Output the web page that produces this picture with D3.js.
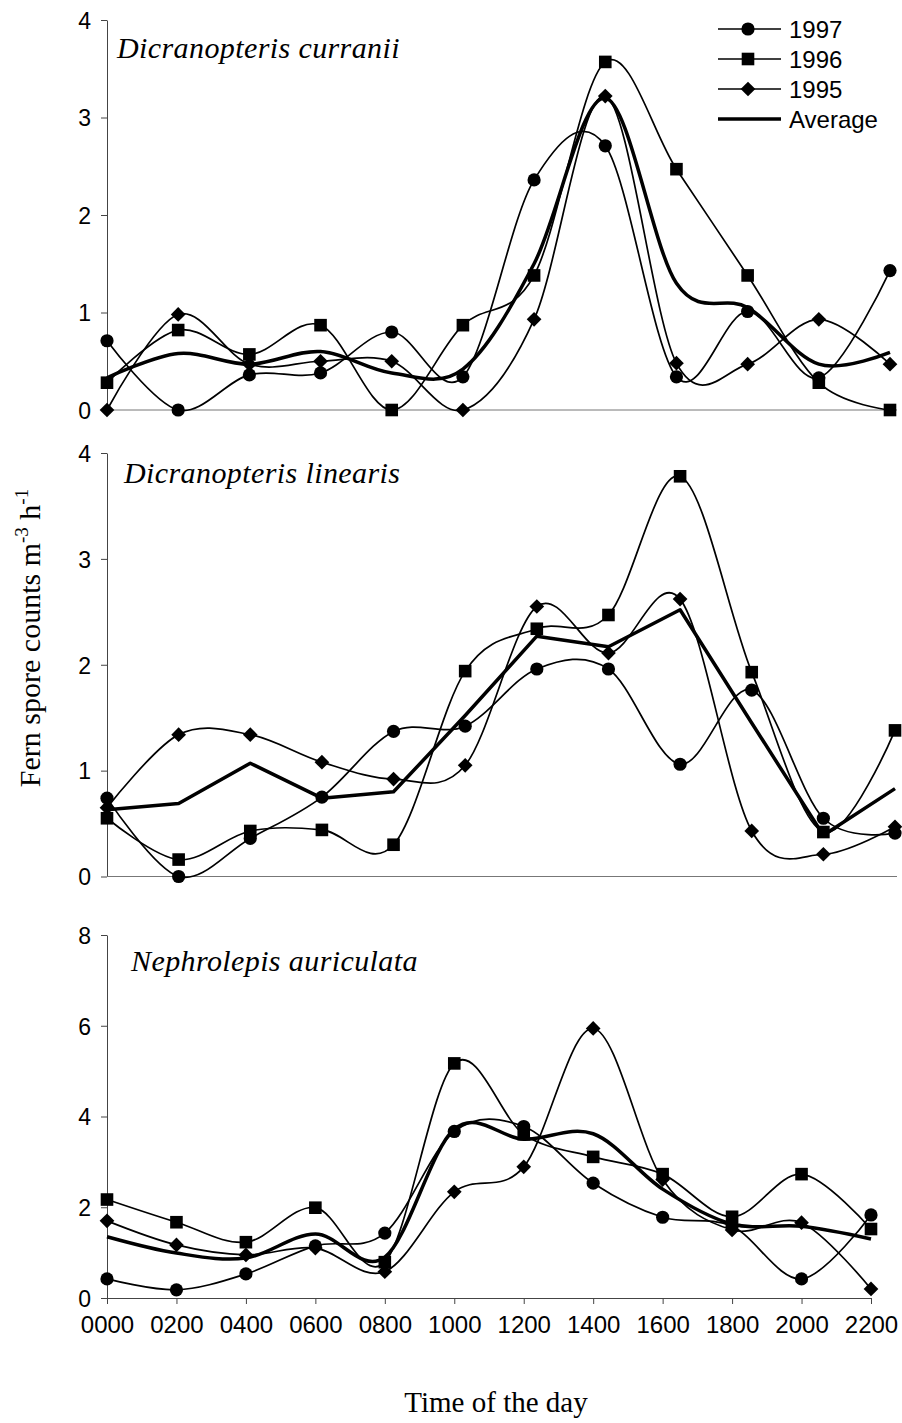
<!DOCTYPE html>
<html>
<head>
<meta charset="utf-8">
<script src="https://cdn.jsdelivr.net/npm/d3@7"></script>
<style>
  html, body { margin: 0; padding: 0; background: #fff; }
  svg { display: block; }
  .tick text { font-family: Arial, "Liberation Sans", sans-serif; fill: #000; }
</style>
</head>
<body>
<svg id="chart" width="902" height="1423"></svg>
<script>
// Sampling times (hour of day)
const hours = ["0000","0200","0400","0600","0800","1000","1200","1400","1600","1800","2000","2200"];

// Dicranopteris curranii
const curranii1997 = [0.71, 0.00, 0.36, 0.38, 0.80, 0.34, 2.36, 2.71, 0.34, 1.01, 0.33, 1.43];
const curranii1996 = [0.28, 0.82, 0.57, 0.87, 0.00, 0.87, 1.38, 3.57, 2.47, 1.38, 0.28, 0.00];
const curranii1995 = [0.00, 0.98, 0.47, 0.50, 0.50, 0.00, 0.93, 3.22, 0.48, 0.47, 0.93, 0.47];
const curraniiAvg  = [0.33, 0.58, 0.47, 0.60, 0.38, 0.42, 1.50, 3.20, 1.30, 1.05, 0.47, 0.59];

// Dicranopteris linearis
const linearis1997 = [0.74, 0.00, 0.36, 0.75, 1.37, 1.42, 1.96, 1.96, 1.06, 1.76, 0.55, 0.41];
const linearis1996 = [0.55, 0.16, 0.43, 0.44, 0.30, 1.94, 2.34, 2.47, 3.78, 1.93, 0.42, 1.38];
const linearis1995 = [0.65, 1.34, 1.34, 1.08, 0.92, 1.05, 2.55, 2.11, 2.62, 0.43, 0.21, 0.47];
const linearisAvg  = [0.63, 0.69, 1.07, 0.74, 0.80, 1.52, 2.27, 2.17, 2.52, 1.45, 0.39, 0.83];

// Nephrolepis auriculata
const auriculata1997 = [0.42, 0.18, 0.53, 1.15, 1.43, 3.67, 3.78, 2.53, 1.78, 1.58, 0.42, 1.83];
const auriculata1996 = [2.17, 1.67, 1.23, 1.99, 0.79, 5.17, 3.61, 3.11, 2.73, 1.79, 2.73, 1.52];
const auriculata1995 = [1.70, 1.17, 0.95, 1.10, 0.58, 2.34, 2.89, 5.94, 2.61, 1.50, 1.66, 0.20];
const auriculataAvg  = [1.35, 0.99, 0.88, 1.41, 0.90, 3.72, 3.50, 3.62, 2.40, 1.63, 1.58, 1.30];

const seriesNames = ["1997", "1996", "1995", "Average"];
// marker kinds: circle, square, diamond (square turned 45 degrees), none
const markerKinds = ["circle", "square", "diamond", null];

const ticksLow = [0, 1, 2, 3, 4];
const ticksHigh = [0, 2, 4, 6, 8];

const panels = [
  { species: "Dicranopteris curranii", series: [curranii1997, curranii1996, curranii1995, curraniiAvg],
    xRange: [107, 890], axisEnd: 897, yRange: [410, 20], yMax: 4, ticks: ticksLow,
    avgCurve: d3.curveCatmullRom.alpha(0), label: [117, 58], showX: false },
  { species: "Dicranopteris linearis", series: [linearis1997, linearis1996, linearis1995, linearisAvg],
    xRange: [107, 895], axisEnd: 897, yRange: [876.5, 453], yMax: 4, ticks: ticksLow,
    avgCurve: d3.curveLinear, label: [124, 483], showX: false },
  { species: "Nephrolepis auriculata", series: [auriculata1997, auriculata1996, auriculata1995, auriculataAvg],
    xRange: [107, 871], axisEnd: 871, yRange: [1298, 935], yMax: 8, ticks: ticksHigh,
    avgCurve: d3.curveCatmullRom.alpha(0), label: [131, 971], showX: true }
];

const svg = d3.select("#chart");
const axisColor = "#444";

function marker(sel, kind) {
  if (kind === "circle") {
    sel.append("circle").attr("r", 6.6).attr("fill", "#000");
  } else if (kind === "square") {
    sel.append("rect").attr("x", -6.3).attr("y", -6.3).attr("width", 12.6).attr("height", 12.6).attr("fill", "#000");
  } else if (kind === "diamond") {
    sel.append("rect").attr("x", -5.2).attr("y", -5.2).attr("width", 10.4).attr("height", 10.4)
      .attr("transform", "rotate(45)").attr("fill", "#000");
  }
}

panels.forEach((p) => {
  const g = svg.append("g");
  const x = d3.scalePoint().domain(hours).range(p.xRange);
  const y = d3.scaleLinear().domain([0, p.yMax]).range(p.yRange);

  // y axis
  const yAxis = d3.axisLeft(y).tickValues(p.ticks).tickSize(6).tickSizeOuter(0).tickPadding(10)
    .tickFormat(d3.format("d"));
  const ya = g.append("g").attr("transform", `translate(${p.xRange[0]},0)`).call(yAxis);
  ya.selectAll("path, line").attr("stroke", axisColor).attr("stroke-width", 1);
  ya.selectAll("text").attr("font-size", 23).attr("dy", "0.36em");

  // x axis
  if (p.showX) {
    const xAxis = d3.axisBottom(x).tickSize(6).tickSizeOuter(0).tickPadding(12);
    const xa = g.append("g").attr("transform", `translate(0,${p.yRange[0]})`).call(xAxis);
    xa.selectAll("path, line").attr("stroke", axisColor).attr("stroke-width", 1);
    xa.selectAll("text").attr("font-size", 24);
  } else {
    g.append("line")
      .attr("x1", p.xRange[0]).attr("x2", p.axisEnd)
      .attr("y1", y(0)).attr("y2", y(0))
      .attr("stroke", "#777").attr("stroke-width", 1);
  }

  // species name
  g.append("text")
    .attr("x", p.label[0]).attr("y", p.label[1])
    .attr("font-family", "'Times New Roman', 'Liberation Serif', serif")
    .attr("font-style", "italic")
    .attr("font-size", 30)
    .attr("letter-spacing", 0.4)
    .text(p.species);

  // series lines
  p.series.forEach((vals, i) => {
    const isAvg = i === 3;
    const line = d3.line()
      .x((d, k) => x(hours[k]))
      .y((d) => y(d))
      .curve(isAvg ? p.avgCurve : d3.curveCatmullRom.alpha(0));
    g.append("path")
      .datum(vals)
      .attr("d", line)
      .attr("fill", "none")
      .attr("stroke", "#000")
      .attr("stroke-width", isAvg ? 3.5 : 1.7)
      .attr("stroke-linejoin", "round");
  });

  // markers
  p.series.forEach((vals, i) => {
    if (!markerKinds[i]) return;
    g.append("g").selectAll("g")
      .data(vals)
      .join("g")
      .attr("transform", (d, k) => `translate(${x(hours[k])},${y(d)})`)
      .each(function () { marker(d3.select(this), markerKinds[i]); });
  });
});

// legend
const legend = svg.append("g");
const legendRows = [29, 59, 89, 119];
seriesNames.forEach((name, i) => {
  const row = legend.append("g").attr("transform", `translate(0,${legendRows[i]})`);
  row.append("line").attr("x1", 718).attr("x2", 781).attr("y1", 0).attr("y2", 0)
    .attr("stroke", "#000").attr("stroke-width", i === 3 ? 3.5 : 1.7);
  if (markerKinds[i]) {
    marker(row.append("g").attr("transform", "translate(748,0)"), markerKinds[i]);
  }
  row.append("text")
    .attr("x", 789).attr("y", 0).attr("dy", "0.36em")
    .attr("font-family", "Arial, 'Liberation Sans', sans-serif")
    .attr("font-size", 24)
    .text(name);
});

// y axis title with superscripts
const yTitle = svg.append("text")
  .attr("transform", "translate(40,638) rotate(-90)")
  .attr("text-anchor", "middle")
  .attr("font-family", "'Times New Roman', 'Liberation Serif', serif")
  .attr("font-size", 30);
yTitle.append("tspan").text("Fern spore counts m");
yTitle.append("tspan").attr("dy", -12).attr("font-size", 19).text("-3");
yTitle.append("tspan").attr("dy", 12).text(" h");
yTitle.append("tspan").attr("dy", -12).attr("font-size", 19).text("-1");

// x axis title
svg.append("text")
  .attr("x", 496).attr("y", 1412)
  .attr("text-anchor", "middle")
  .attr("font-family", "'Times New Roman', 'Liberation Serif', serif")
  .attr("font-size", 29)
  .text("Time of the day");
</script>
</body>
</html>
